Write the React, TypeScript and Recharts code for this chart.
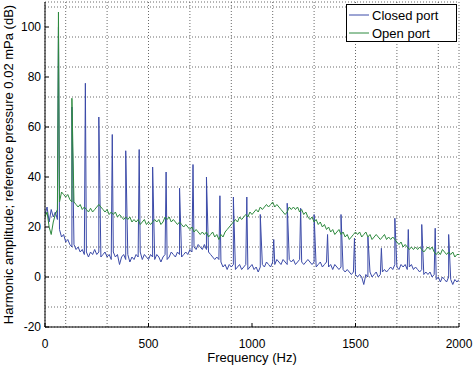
import { LineChart, Line, XAxis, YAxis, CartesianGrid, Legend, Label } from 'recharts';

const FONT = '"Liberation Sans", Arial, Helvetica, sans-serif';
const BLUE = '#3b4aa8';
const GREEN = '#2d8a3e';

// baseline level, one value every 10 Hz from 0 to 2000 Hz
const FREQ_STEP = 10;

const closedBase = [
  25, 28, 22, 27, 24, 26, 23, 19, 16, 17,
  14, 15, 13, 12, 13, 11, 12, 10, 11, 9,
  10, 8, 10, 9, 11, 9, 10, 8, 9, 10,
  8, 9, 7, 10, 8, 9, 5, 8, 9, 7,
  9, 6, 8, 7, 9, 8, 10, 7, 9, 8,
  7, 9, 8, 7, 9, 8, 6, 8, 9, 7,
  8, 10, 9, 8, 10, 9, 8, 9, 10, 9,
  11, 10, 12, 11, 13, 12, 11, 13, 11, 10,
  9, 8, 7, 8, 7, 6, 4, 5, 3, 5,
  4, 5, 3, 4, 5, 3, 4, 5, 3, 4,
  5, 3, 4, 2, 4, 5, 4, 6, 5, 4,
  6, 5, 7, 6, 5, 7, 6, 5, 7, 6,
  7, 5, 6, 7, 6, 5, 6, 7, 6, 5,
  6, 4, 5, 6, 4, 5, 6, 4, 5, 3,
  5, 4, 3, 4, 3, 2, 3, 2, 1, 2,
  1, 0, 1, 0, -3, 1, 0, 2, 0, 1,
  2, 0, 1, 2, 3, 2, 3, 4, 3, 5,
  4, 3, 5, 4, 5, 3, 4, 5, 3, 4,
  3, 2, 3, 1, 2, 1, 2, 0, 1, -1,
  0, -2, 0, -1, -2, 0, -1, -3, -1, -2,
  -1,
];

const openBase = [
  24, 26, 20, 17, 22, 25, 27, 30, 34, 33,
  32, 33, 31, 30, 30, 29, 28, 29, 27, 28,
  27, 26, 27.5, 26, 27, 28, 29, 28, 27, 26,
  27, 25, 26, 25, 26, 24, 25, 24, 23, 24,
  23, 24, 22, 23, 22, 23, 21, 22, 23, 21,
  22, 21, 22, 23, 22, 23, 21, 22, 24, 23,
  24, 22, 23, 22, 21, 22, 21, 20, 21, 20,
  19, 20, 18, 19, 18, 17, 18, 17, 18, 16,
  17, 18, 16, 17, 15, 17, 16, 18, 19, 20,
  21, 22, 23, 22, 24, 23, 24, 25, 24, 26,
  25, 26, 27, 26, 28, 27, 28, 29, 28, 29,
  30, 28, 29, 28, 27, 26, 25, 26, 28, 27,
  28, 27, 28, 26, 27, 25, 26, 24, 23, 24,
  22, 23, 21, 22, 20, 21, 19, 20, 18, 19,
  17, 18, 19, 17, 18, 16, 17, 15, 16, 17,
  18, 17, 18, 16, 17, 18, 16, 17, 15, 16,
  17, 16, 15, 16, 17, 15, 16, 15, 16, 15,
  14, 13, 14, 12, 13, 12, 11, 12, 11, 12,
  11, 12, 11, 10, 11, 12, 11, 12, 10, 9,
  10, 9, 11, 10, 9, 10, 9, 10, 8, 9,
  9,
];

// harmonic spikes (fundamental ~65 Hz)
const harmonicFreqs = [
  65, 130, 195, 260, 325, 390, 455, 520, 585, 650,
  715, 780, 845, 910, 975, 1040, 1105, 1170, 1235, 1300,
  1365, 1430, 1495, 1560, 1625, 1690, 1755, 1820, 1885, 1950,
];
const closedPeaks = [
  100, 68, 77.5, 64, 57, 50.5, 51, 44, 42, 35.5,
  45, 40, 32.5, 32, 32, 25, 15, 29.5, 27.5, 25,
  17, 25, 15.5, 16, 11.5, 23.5, 19, 21, 19.5, 17,
];
const openPeakFreqs = [65, 130];
const openPeaks = [106, 71.5];

const xTicks = [0, 500, 1000, 1500, 2000];
const yTicks = [-20, 0, 20, 40, 60, 80, 100];
const xGrid = [100, 200, 300, 400, 500, 600, 700, 800, 900, 1000, 1100, 1200, 1300, 1400, 1500, 1600, 1700, 1800, 1900];
const yGrid = [
  -16, -12, -8, -4, 0, 4, 8, 12, 16, 20, 24, 28, 32, 36, 40, 44,
  48, 52, 56, 60, 64, 68, 72, 76, 80, 84, 88, 92, 96, 100, 104, 108,
];

function buildSeries(base: number[], freqs: number[], peaks: number[]) {
  const pts = base.map((v, i) => ({ f: i * FREQ_STEP, v }));
  freqs.forEach((f, i) => pts.push({ f, v: peaks[i] }));
  return pts.sort((a, b) => a.f - b.f);
}

const closedData = buildSeries(closedBase, harmonicFreqs, closedPeaks);
const openData = buildSeries(openBase, openPeakFreqs, openPeaks);

const tickStyle = { fontSize: 12, fill: '#000', fontFamily: FONT };

function renderLegend(props: any) {
  const { payload = [] } = props;
  return (
    <div
      style={{
        width: 111,
        height: 38,
        boxSizing: 'border-box',
        border: '1px solid #000',
        background: '#fff',
        paddingTop: 1,
        fontFamily: FONT,
        fontSize: 13,
      }}
    >
      {payload.map((entry: any) => (
        <div key={entry.value} style={{ display: 'flex', alignItems: 'center', height: 18 }}>
          <svg width={22} height={18} style={{ marginLeft: 1 }}>
            <line x1={1} x2={21} y1={9} y2={9} stroke={entry.color} strokeWidth={1} />
          </svg>
          <span style={{ marginLeft: 2, color: '#000' }}>{entry.value}</span>
        </div>
      ))}
    </div>
  );
}

export default function App() {
  return (
    <div style={{ position: 'absolute', left: 0, top: 0, width: 474, height: 366, background: '#fff', fontFamily: FONT }}>
      <LineChart width={474} height={366} margin={{ top: 2, right: 15, bottom: 0, left: 0 }}>
        <XAxis
          xAxisId="main"
          type="number"
          dataKey="f"
          domain={[0, 2000]}
          ticks={xTicks}
          interval={0}
          height={39}
          tickSize={-4}
          tickMargin={16}
          tick={tickStyle}
          stroke="#000"
          allowDataOverflow
        >
          <Label
            content={(p: any) => {
              const vb = p.viewBox;
              return (
                <text x={vb.x + vb.width / 2} y={vb.y + 35} textAnchor="middle" fontSize={13} fontFamily={FONT} fill="#000">
                  Frequency (Hz)
                </text>
              );
            }}
          />
        </XAxis>
        <YAxis
          yAxisId="main"
          type="number"
          domain={[-20, 110]}
          ticks={yTicks}
          interval={0}
          width={45}
          tickSize={-4}
          tickMargin={8}
          tick={tickStyle}
          stroke="#000"
          allowDataOverflow
        >
          <Label
            content={(p: any) => {
              const vb = p.viewBox;
              const cy = vb.y + vb.height / 2;
              return (
                <text
                  x={8}
                  y={cy}
                  transform={`rotate(-90, 8, ${cy})`}
                  textAnchor="middle"
                  dominantBaseline="central"
                  fontSize={13}
                  fontFamily={FONT}
                  fill="#000"
                >
                  Harmonic amplitude; reference pressure 0.02 mPa (dB)
                </text>
              );
            }}
          />
        </YAxis>
        <XAxis
          xAxisId="top"
          orientation="top"
          type="number"
          domain={[0, 2000]}
          ticks={xTicks}
          interval={0}
          height={0}
          tickSize={-4}
          tick={false}
          stroke="#000"
          allowDataOverflow
        />
        <YAxis
          yAxisId="right"
          orientation="right"
          type="number"
          domain={[-20, 110]}
          ticks={yTicks}
          interval={0}
          width={0}
          tickSize={-4}
          tick={false}
          stroke="#000"
          allowDataOverflow
        />
        <XAxis xAxisId="grid" hide height={0} type="number" dataKey="f" domain={[0, 2000]} ticks={xGrid} allowDataOverflow />
        <YAxis yAxisId="grid" hide width={0} type="number" domain={[-20, 110]} ticks={yGrid} allowDataOverflow />
        <CartesianGrid xAxisId="grid" yAxisId="grid" stroke="#444" strokeDasharray="1 2" strokeWidth={0.8} />

        <Line
          xAxisId="main"
          yAxisId="main"
          data={closedData}
          dataKey="v"
          name="Closed port"
          type="linear"
          stroke={BLUE}
          strokeWidth={1}
          dot={false}
          activeDot={false}
          isAnimationActive={false}
        />
        <Line
          xAxisId="main"
          yAxisId="main"
          data={openData}
          dataKey="v"
          name="Open port"
          type="linear"
          stroke={GREEN}
          strokeWidth={1}
          dot={false}
          activeDot={false}
          isAnimationActive={false}
        />

        <Legend
          layout="horizontal"
          verticalAlign="middle"
          align="center"
          content={renderLegend}
          wrapperStyle={{ left: 346, top: 4, width: 111, height: 38 }}
        />
      </LineChart>
    </div>
  );
}
